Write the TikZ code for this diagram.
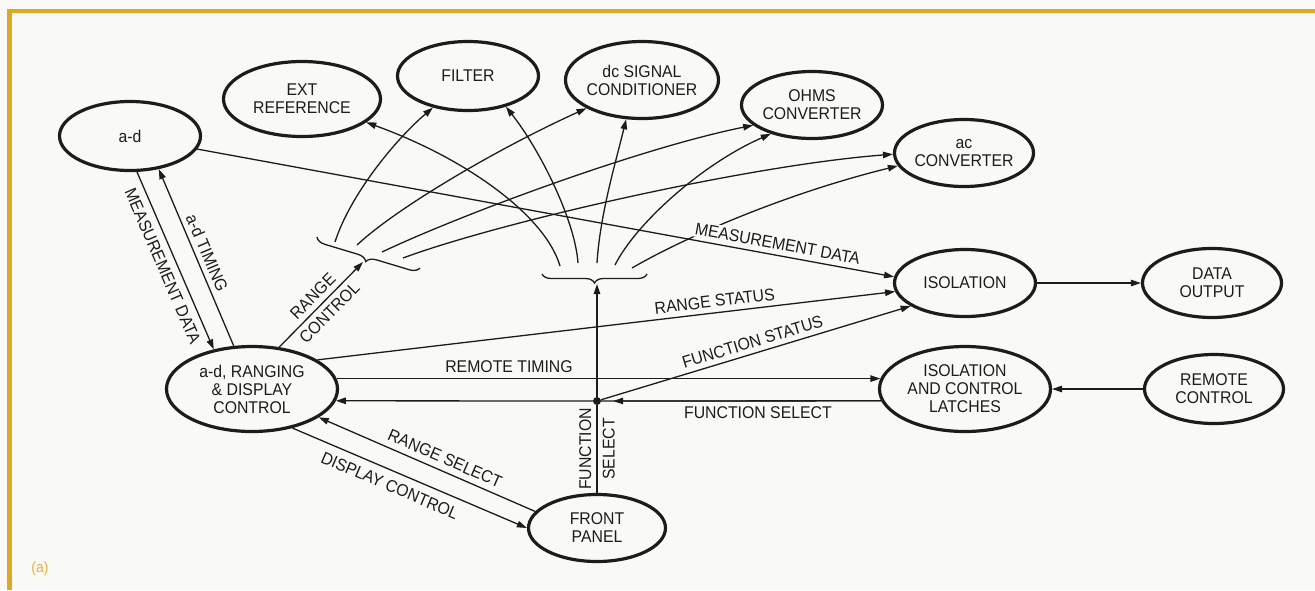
\documentclass[tikz,border=0pt]{standalone}
\usepackage{fontspec}
\setmainfont{Liberation Sans}[FakeStretch=0.93]
\usetikzlibrary{arrows.meta, decorations.pathreplacing, shapes.geometric}
\definecolor{bg}{RGB}{249,249,245}
\definecolor{gold}{RGB}{224,166,38}
\definecolor{goldtext}{RGB}{226,176,70}
\definecolor{ink}{RGB}{28,28,28}
\newcommand{\nodefont}{\fontsize{17}{18}\selectfont}
\begin{document}
\begin{tikzpicture}[x=1pt,y=-1pt,
  blob/.style={ellipse, draw=ink, line width=3.2pt, inner sep=0pt, inner xsep=-8pt, align=center, font=\nodefont, text=ink},
  conn/.style={draw=ink, line width=1.3pt, -{Triangle[length=10pt,width=6.5pt]}},
  plain/.style={draw=ink, line width=1.3pt},
  lbl/.style={font=\nodefont, text=ink, inner sep=2pt},
  bracestyle/.style={draw=ink, line width=1.3pt, decorate}
]
\useasboundingbox (0,0) rectangle (1315,590);
\fill[bg] (0,0) rectangle (1315,590);
\draw[gold, line width=4.5pt] (9.5,590) -- (9.5,11) -- (1315,11);
\node[text=goldtext, font=\fontsize{15}{15}\selectfont] (tag) at (40,569) {(a)};

% nodes
\node[blob, minimum width=141pt, minimum height=69pt] (ad) at (130,136) {a-d};
\node[blob, minimum width=157pt, minimum height=75pt] (ext) at (302,99) {EXT\\REFERENCE};
\node[blob, minimum width=141pt, minimum height=69pt] (filter) at (468,76) {FILTER};
\node[blob, minimum width=153pt, minimum height=77pt] (dcsig) at (642,80) {dc SIGNAL\\CONDITIONER};
\node[blob, minimum width=141pt, minimum height=67pt] (ohms) at (812,105) {OHMS\\CONVERTER};
\node[blob, minimum width=139pt, minimum height=67pt] (acconv) at (964,153) {ac\\CONVERTER};
\node[blob, minimum width=141pt, minimum height=67pt] (iso) at (965,283) {ISOLATION};
\node[blob, minimum width=139pt, minimum height=69pt] (dout) at (1212,283) {DATA\\OUTPUT};
\node[blob, minimum width=171pt, minimum height=85pt] (latch) at (965,389) {ISOLATION\\AND CONTROL\\LATCHES};
\node[blob, minimum width=139pt, minimum height=69pt] (remote) at (1214,389) {REMOTE\\CONTROL};
\node[blob, minimum width=171pt, minimum height=85pt] (adr) at (252,389) {a-d, RANGING\\\& DISPLAY\\CONTROL};
\node[blob, minimum width=137pt, minimum height=67pt] (front) at (597,528) {FRONT\\PANEL};
\node[circle, fill=ink, inner sep=0pt, minimum size=8pt] (dot) at (597,401) {};

% brace points
\coordinate (br1s) at (420,268);
\coordinate (br1e) at (317,237);
\coordinate (br2s) at (647,274);
\coordinate (br2e) at (542,274);
\coordinate (b1tip) at (363,262);
\coordinate (b2tip) at (597,284);
\coordinate (b1a) at (335,242);
\coordinate (b1b) at (357,245);
\coordinate (b1c) at (382,252);
\coordinate (b1d) at (403,258);
\coordinate (b2a) at (560,266);
\coordinate (b2b) at (578,263);
\coordinate (b2c) at (597,263);
\coordinate (b2d) at (615,265);
\coordinate (b2e) at (632,268);

\draw[bracestyle, decoration={brace, amplitude=9.5pt}] (br1s) -- (br1e);
\draw[bracestyle, decoration={brace, amplitude=9pt}] (br2s) -- (br2e);

% fan from brace 1
\draw[conn] (b1a) .. controls (350,195) and (395,140) .. (filter.222);
\draw[conn] (b1b) .. controls (400,205) and (505,145) .. (dcsig.207);
\draw[conn] (b1c) .. controls (460,215) and (640,148) .. (ohms.199);
\draw[conn] (b1d) .. controls (500,222) and (750,165) .. (acconv.181);
% fan from brace 2
\draw[conn] (b2a) .. controls (545,215) and (465,158) .. (ext.340);
\draw[conn] (b2b) .. controls (575,220) and (540,150) .. (filter.321);
\draw[conn] (b2c) .. controls (600,215) and (615,165) .. (dcsig.248);
\draw[conn] (b2d) .. controls (635,225) and (700,165) .. (ohms.215);
\draw[conn] (b2e) .. controls (680,240) and (780,195) .. (acconv.191);

% long measurement data
\draw[conn] (ad.349) -- node[lbl, pos=0.83, sloped, above=3pt, fill=bg] {MEASUREMENT DATA} (iso.175);

% left pair
\draw[conn] (ad.281) -- node[lbl, pos=0.5, sloped, below=5pt] {MEASUREMENT DATA} (adr.134);
\draw[conn] (adr.113) -- node[lbl, pos=0.5, sloped, above=3pt] {a-d TIMING} (ad.311);

% range control
\draw[conn] (adr.57) -- node[lbl, sloped, above=3pt] {RANGE} node[lbl, sloped, below=3pt] {CONTROL} (b1tip);

% status lines
\draw[conn] (adr.24) -- node[lbl, pos=0.69, sloped, above=3pt] {RANGE STATUS} (iso.187);
\draw[conn] (dot) -- node[lbl, pos=0.5, sloped, above=3pt] {FUNCTION STATUS} (iso.203);
\draw[conn] (adr.7) -- node[lbl, pos=0.317, above=3pt] {REMOTE TIMING} (latch.173);
\draw[plain] (latch.188) -- node[lbl, pos=0.44, below=3pt] {FUNCTION SELECT} (dot);
\draw[conn, shorten >=12pt] (latch.188) -- (dot);
\draw[conn] (dot) -- (adr.352);

% front panel
\draw[plain] (front) -- node[lbl, sloped, above=3pt] {FUNCTION} node[lbl, sloped, below=3pt] {SELECT} (dot);
\draw[conn] (dot) -- (b2tip);
\draw[conn] (front.165) -- node[lbl, pos=0.44, sloped, above=4pt] {RANGE SELECT} (adr.337);
\draw[conn] (adr.316) -- node[lbl, pos=0.44, sloped, below=6pt] {DISPLAY CONTROL} (front.180);

% right side
\draw[conn] (iso) -- (dout);
\draw[conn] (remote) -- (latch);
\end{tikzpicture}
\end{document}
